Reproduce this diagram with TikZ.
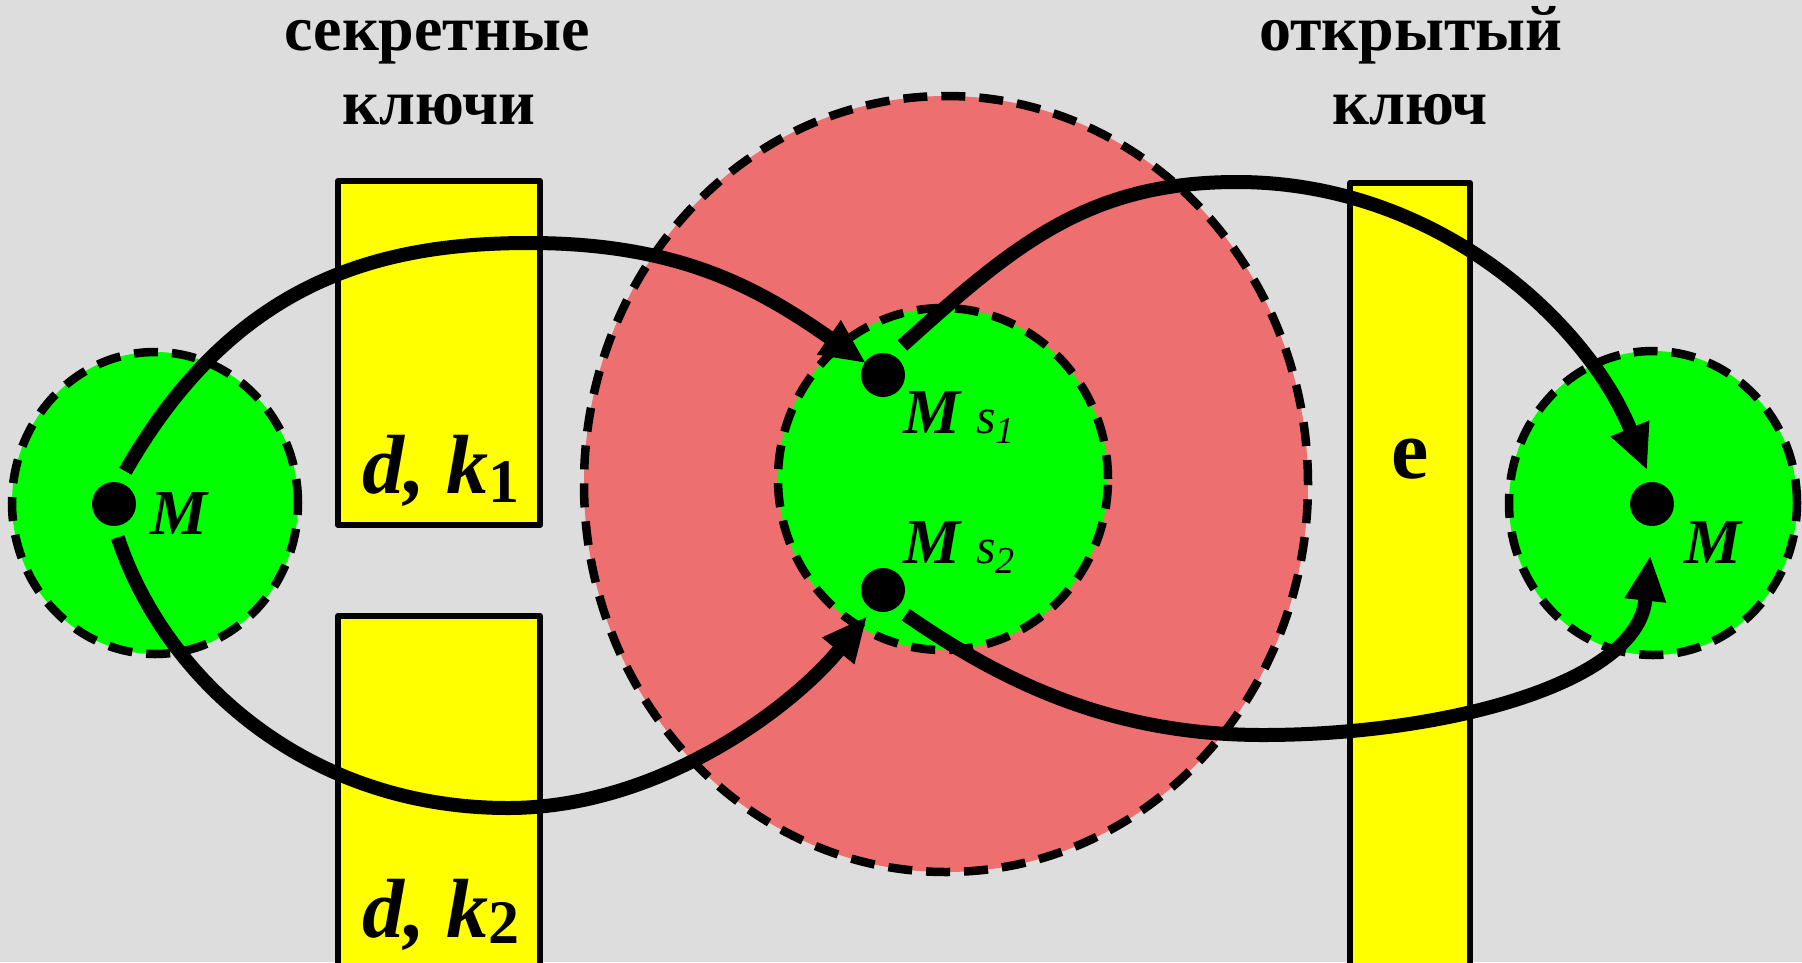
\documentclass[tikz,border=0pt]{standalone}
\usepackage{fontspec}
\setmainfont{Liberation Serif}
\usetikzlibrary{arrows.meta}
\definecolor{bg}{RGB}{221,221,221}
\definecolor{rosy}{RGB}{237,111,111}
\definecolor{lime}{RGB}{0,255,0}
\definecolor{keyyellow}{RGB}{255,255,0}
\begin{document}
\begin{tikzpicture}[x=1pt,y=-1pt,
  dashring/.style={draw=black,line width=8.5pt,dash pattern=on 24pt off 14pt},
  keybox/.style={draw=black,fill=keyyellow,line width=6pt,line join=round},
  dot/.style={circle,fill=black,inner sep=0pt,minimum size=44pt,outer sep=0pt},
  flow/.style={draw=black,line width=14pt,-{Triangle[length=44pt,width=42pt,line width=1pt]}},
  title/.style={font=\fontsize{64}{64}\selectfont\bfseries,anchor=base,inner sep=0pt},
  mlab/.style={font=\fontsize{64}{64}\selectfont\bfseries\itshape,anchor=base,inner sep=0pt},
  txt/.style={anchor=base west,inner sep=0pt}
]
\fill[bg] (0,0) rectangle (1802,962);
\useasboundingbox (0,0) rectangle (1802,962);
\clip (0,0) rectangle (1802,962);

% titles
\node[title] (sec1) at (437,50) {секретные};
\node[title] (sec2) at (439,124) {ключи};
\node[title] (pub1) at (1411,50) {открытый};
\node[title] (pub2) at (1410,124) {ключ};

% big red disc and the green discs
\draw[dashring,fill=rosy] (946,484) ellipse [x radius=362pt,y radius=388pt];
\draw[dashring,fill=lime] (943,479) ellipse [x radius=165pt,y radius=171pt];
\draw[dashring,fill=lime] (155,503) ellipse [x radius=143pt,y radius=151pt];
\draw[dashring,fill=lime] (1653,503) ellipse [x radius=144pt,y radius=152pt];

% key boxes
\draw[keybox] (338,181) rectangle (540,525);
\draw[keybox] (338,616) rectangle (540,990);
\draw[keybox] (1350,183) rectangle (1470,990);

\node[txt] (lk1) at (362,493) {\fontsize{84}{84}\selectfont\bfseries\itshape d, k\raisebox{-9pt}{\fontsize{62}{62}\selectfont\upshape 1}};
\node[txt] (lk2) at (362,937) {\fontsize{84}{84}\selectfont\bfseries\itshape d, k\raisebox{-6pt}{\fontsize{62}{62}\selectfont\upshape 2}};
\node[anchor=base,inner sep=0pt,font=\fontsize{84}{84}\selectfont\bfseries] (le) at (1410,478) {e};

% points
\node[dot] (m1) at (114,504) {};
\node[dot] (ms1) at (883,375) {};
\node[dot] (ms2) at (883,590) {};
\node[dot] (m2) at (1652,504) {};

\node[mlab] (lm1) at (179,534) {M};
\node[mlab] (lm2) at (1713,563) {M};
\node[txt] (lms1) at (903,433) {\fontsize{64}{64}\selectfont\bfseries\itshape M\hspace{16pt}\fontsize{50}{50}\selectfont\mdseries s\raisebox{-10pt}{\fontsize{38}{38}\selectfont 1}};
\node[txt] (lms2) at (903,563) {\fontsize{64}{64}\selectfont\bfseries\itshape M\hspace{16pt}\fontsize{50}{50}\selectfont\mdseries s\raisebox{-10pt}{\fontsize{38}{38}\selectfont 2}};

% connectors
\coordinate (top1) at (529,243);
\coordinate (bot1) at (508,808);
\coordinate (top2) at (1237,182);
\coordinate (bot2) at (1263,735);

\draw[flow,shorten <=13pt] (m1.77) .. controls (234,281) and (379,243) .. (top1)
  .. controls (679,243) and (758,288) .. (ms1);
\draw[flow,shorten <=12pt,shorten >=10pt] (m1.south) .. controls (165,680) and (308,808) .. (bot1)
  .. controls (658,808) and (790,709) .. (ms2.242);
\draw[flow,shorten <=14pt,shorten >=14pt] (ms1.66) .. controls (1013,246) and (1087,182) .. (top2)
  .. controls (1437,182) and (1586,322) .. (m2.north);
\draw[flow,shorten <=12pt,shorten >=31pt] (ms2.-54) .. controls (1004,683) and (1113,735) .. (bot2)
  .. controls (1443,735) and (1636,684) .. (m2.-86);
\end{tikzpicture}
\end{document}
